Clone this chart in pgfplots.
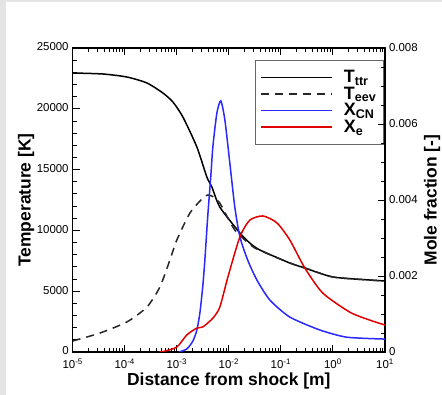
\documentclass[border=0pt]{standalone}
\usepackage{fontspec}
\setmainfont{Liberation Sans}
\usepackage{pgfplots}
\pgfplotsset{compat=1.18}
\definecolor{myblue}{RGB}{40,40,255}
\definecolor{myred}{RGB}{225,0,0}
\definecolor{bggray}{RGB}{229,229,229}
\pgfplotsset{
 base/.style={
  scale only axis, width=312.3bp, height=304bp,
  line width=1.5bp,
  tick align=inside,
  major tick length=7bp, minor tick length=4bp,
  every tick/.style={black, line width=0.9bp},
  tick label style={font=\fontsize{11.5}{13}\selectfont},
  label style={font=\fontsize{17.5}{20}\selectfont\bfseries},
  /pgf/number format/assume math mode=true,
  scaled y ticks=false,
 }
}
\begin{document}
\begin{tikzpicture}
\fill[bggray] (-72.7bp,-43bp) rectangle (369.3bp,352bp);
\fill[white] (-66.7bp,-43bp) rectangle (369.3bp,350bp);
\begin{axis}[xmode=log, xmin=1e-5, xmax=10, base,
  ymin=0, ymax=25000,
  ytick={0,5000,10000,15000,20000,25000}, minor y tick num=4,
  ytick pos=left, xtick pos=both,
  xtick={1e-5,1e-4,1e-3,1e-2,1e-1,1,10},
  xticklabels={10\textsuperscript{-5},10\textsuperscript{-4},10\textsuperscript{-3},10\textsuperscript{-2},10\textsuperscript{-1},10\textsuperscript{0},10\textsuperscript{1}},
  minor xtick={2e-5,3e-5,4e-5,5e-5,6e-5,7e-5,8e-5,9e-5,2e-4,3e-4,4e-4,5e-4,6e-4,7e-4,8e-4,9e-4,2e-3,3e-3,4e-3,5e-3,6e-3,7e-3,8e-3,9e-3,2e-2,3e-2,4e-2,5e-2,6e-2,7e-2,8e-2,9e-2,0.2,0.3,0.4,0.5,0.6,0.7,0.8,0.9,2,3,4,5,6,7,8,9},
  xticklabel style={yshift=-2.5bp},
  yticklabel style={/pgf/number format/1000 sep={}, yshift=1bp},
  xlabel={Distance from shock [m]},
  ylabel={Temperature [K]},
  xlabel style={at={(rel axis cs:0.5,0)}, anchor=center, yshift=-29bp},
  ylabel style={at={(rel axis cs:0,0.5)}, anchor=center, yshift=46.7bp},
  legend cell align=left,
  legend image code/.code={\draw[#1] (0bp,0bp) -- (71bp,0bp);},
  legend style={at={(rel axis cs:0.584,0.9605)}, anchor=north west,
    draw=black!60, line width=0.7bp, fill=white,
    font=\fontsize{18}{18}\selectfont\bfseries,
    inner xsep=5bp, inner ysep=8bp, row sep=-1.2bp,
    /tikz/every odd column/.append style={column sep=9bp}},
]
% T_ttr
\addplot[black, line width=1.5bp, smooth, tension=0.4] coordinates {
(1e-5,22945) (3.82e-5,22862) (1.10e-4,22615) (2.67e-4,22122) (5.41e-4,21300) (8.41e-4,20560)
(1.31e-3,19326) (2.43e-3,16860) (3.78e-3,14390) (4.72e-3,13570) (6.71e-3,11920)
(1.63e-2,9790) (2.53e-2,8960) (3.94e-2,8390) (0.148,7320) (0.288,6910) (0.99,6170) (5.08,5920) (10,5840)
};
\addlegendentry{T\textsubscript{ttr}}
% T_eev
\addplot[black!85, line width=1.5bp, dash pattern=on 8bp off 6bp, smooth, tension=0.4] coordinates {
(1e-5,905) (3.34e-5,1560) (1.10e-4,2470) (2.67e-4,3700) (4.74e-4,5350) (7.38e-4,7570) (1.0e-3,9210)
(1.79e-3,11430) (3.17e-3,12665) (3.95e-3,12910) (5.15e-3,12750) (6.71e-3,12250) (9.57e-3,11020)
(1.30e-2,10030) (2.03e-2,9210) (3.15e-2,8550) (4.5e-2,8250) (0.148,7320) (0.288,6910) (0.99,6170) (5.08,5920) (10,5840)
};
\addlegendentry{T\textsubscript{eev}}
\addlegendimage{myblue, line width=1.5bp}
\addlegendentry{X\textsubscript{CN}}
\addlegendimage{myred, line width=1.5bp}
\addlegendentry{X\textsubscript{e}}
\end{axis}
\begin{axis}[xmode=log, xmin=1e-5, xmax=10, base,
  hide x axis,
  ymin=0, ymax=0.008,
  ytick={0,0.002,0.004,0.006,0.008},
  yticklabels={0,0.002,0.004,0.006,0.008},
  minor y tick num=3,
  ytick pos=right,
  ylabel={Mole fraction [-]},
  ylabel style={at={(rel axis cs:1,0.5)}, anchor=center, yshift=-47bp},
]
% X_CN
\addplot[myblue, line width=1.5bp, smooth, tension=0.4] coordinates {
(1.1e-3,0) (1.56e-3,0.00008) (2.04e-3,0.00029) (2.43e-3,0.00058) (2.78e-3,0.00103) (3.17e-3,0.00176)
(3.46e-3,0.00242) (3.95e-3,0.00361) (4.52e-3,0.00466) (4.93e-3,0.0054) (5.89e-3,0.00629)
(7.01e-3,0.00661) (8.38e-3,0.00611) (1.045e-2,0.00497) (1.30e-2,0.00382) (1.63e-2,0.00303)
(2.3e-2,0.00242) (3.44e-2,0.0019) (6.12e-2,0.00137) (0.148,0.00092) (0.558,0.00058) (1.84,0.00039) (10,0.00034)
};
% X_e
\addplot[myred, line width=1.5bp, smooth, tension=0.4] coordinates {
(4.5e-4,0) (5.41e-4,0.00001) (1.0e-3,0.00013) (1.56e-3,0.00045) (2.43e-3,0.00063) (3.17e-3,0.00066)
(4.93e-3,0.00089) (6.71e-3,0.00118) (9.57e-3,0.00197) (1.63e-2,0.00303) (2.53e-2,0.00347)
(4.50e-2,0.00358) (8.36e-2,0.0034) (0.148,0.00295) (0.288,0.00221) (0.638,0.00155) (2.10,0.00105) (5.08,0.00084) (10,0.00071)
};
\end{axis}
\pgfresetboundingbox
\useasboundingbox (-72.7bp,-43bp) rectangle (369.3bp,352bp);
\end{tikzpicture}
\end{document}
